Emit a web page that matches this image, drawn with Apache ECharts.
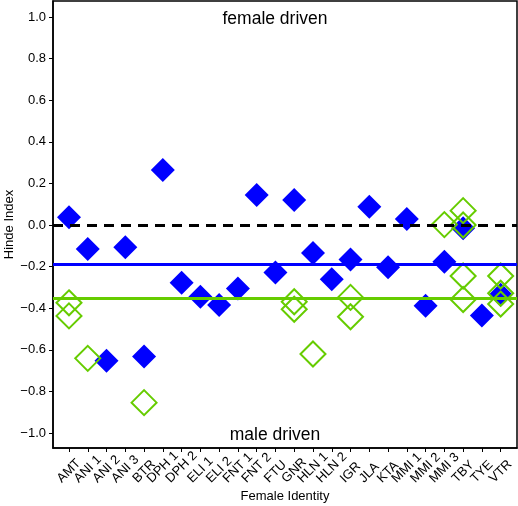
<!DOCTYPE html>
<html>
<head>
<meta charset="utf-8">
<script src="https://cdn.jsdelivr.net/npm/echarts@6/dist/echarts.min.js"></script>
<style>html,body{margin:0;padding:0;background:#fff}#c{width:518px;height:506px}</style>
</head>
<body>
<div id="c"></div>
<script>
const categories = ['AMT','ANI 1','ANI 2','ANI 3','BTR','DPH 1','DPH 2','ELI 1','ELI 2','FNT 1','FNT 2','FTU','GNR','HLN 1','HLN 2','IGR','JLA','KTA','MMI 1','MMI 2','MMI 3','TBY','TYE','VTR'];
// one filled (blue) value per female
const blueValues = [0.037,-0.115,-0.652,-0.107,-0.632,0.264,-0.277,-0.345,-0.385,-0.305,0.144,-0.228,0.12,-0.135,-0.261,-0.166,0.088,-0.203,0.029,-0.388,-0.176,-0.016,-0.435,-0.335];
// open (green) values: [category, value]
const greenCats = ['AMT','AMT','ANI 1','BTR','GNR','GNR','HLN 1','IGR','IGR','MMI 3','TBY','TBY','TBY','TBY','VTR','VTR','VTR'];
const greenValues = [-0.374,-0.437,-0.641,-0.854,-0.369,-0.405,-0.62,-0.348,-0.441,0.002,0.069,0.0,-0.245,-0.358,-0.245,-0.328,-0.38];
const blueMean = -0.19;
const greenMean = -0.355;
const zeroLine = 0;
const yTicks = [-1.0,-0.8,-0.6,-0.4,-0.2,0.0,0.2,0.4,0.6,0.8,1.0];
const annotations = ['female driven','male driven'];

const xMin = -0.852, xMax = 23.87;
const xIdx = categories.map((c,i)=>i);
const xLabelVals = [xMin].concat(xIdx, [xMax]); // empty edge labels keep every name visible
const blueData = blueValues.map((v,i)=>[i,v]);
const greenData = greenValues.map((v,i)=>[categories.indexOf(greenCats[i]),v]);

const font = 'Liberation Sans, Arial, sans-serif';
const xFont = 13;
const labelMargin = 2;
const labelBottomDepth = 36; // px below the axis line where rotated labels end
// each rotated label: bbox centred under its tick, bottoms aligned
const ctx = document.createElement('canvas').getContext('2d');
ctx.font = xFont + 'px ' + font;
const rich = {};
categories.forEach((c,i)=>{
  const L = ctx.measureText(c).width;
  const W = (L + 0.72*xFont) / Math.SQRT2;
  const s = Math.max(0, labelBottomDepth - labelMargin - W/2);
  const p = Math.SQRT2 * s;
  rich['c'+i] = {fontFamily:font,fontSize:xFont,color:'#000',padding:[p,p,0,0]};
});

const chart = echarts.init(document.getElementById('c'), null, {renderer:'canvas'});
chart.setOption({
  animation:false,
  grid:{left:53,right:1,top:1,bottom:58,show:true,borderColor:'#000',borderWidth:1.5,backgroundColor:'#fff',
        containLabel:false,outerBoundsMode:'none'},
  xAxis:{
    type:'value', min:xMin, max:xMax,
    name:'Female Identity', nameLocation:'middle', nameGap:42, nameMoveOverlap:false,
    nameTextStyle:{fontFamily:font,fontSize:13,color:'#000'},
    axisLine:{show:true,onZero:false,lineStyle:{color:'#000',width:1.5}},
    axisTick:{show:true,customValues:xIdx,length:4,lineStyle:{color:'#000'}},
    axisLabel:{customValues:xLabelVals,rotate:45,margin:labelMargin,align:'center',verticalAlign:'middle',
      fontFamily:font,fontSize:xFont,color:'#000',rich:rich,hideOverlap:false,
      formatter:(v)=>{const i=Math.round(v);
        if(Math.abs(v-i)>1e-6||i<0||i>=categories.length) return '';
        return '{c'+i+'|'+categories[i]+'}';}},
    splitLine:{show:false}
  },
  yAxis:{
    type:'value', min:-1.072, max:1.077,
    name:'Hinde Index', nameLocation:'middle', nameGap:37, nameRotate:90, nameMoveOverlap:false,
    nameTextStyle:{fontFamily:font,fontSize:13,color:'#000'},
    axisLine:{show:true,onZero:false,lineStyle:{color:'#000',width:1.5}},
    axisTick:{show:true,customValues:yTicks,length:4,lineStyle:{color:'#000'}},
    axisLabel:{customValues:yTicks,margin:7,fontFamily:font,fontSize:13,color:'#000',
      showMinLabel:true,showMaxLabel:true,
      formatter:(v)=>(v< -1e-9?'\u2212':'')+Math.abs(v).toFixed(1)},
    splitLine:{show:false}
  },
  series:[
    {type:'scatter',data:blueData,symbol:'diamond',symbolSize:24,
     itemStyle:{color:'#0000ff',opacity:1},z:2},
    {type:'scatter',data:greenData,symbol:'diamond',symbolSize:25,
     itemStyle:{color:'rgba(255,255,255,0)',borderColor:'#66cc00',borderWidth:2,opacity:1},z:3},
    {type:'scatter',data:[],z:5,
     markLine:{silent:true,symbol:['none','none'],label:{show:false},
       data:[
         {yAxis:blueMean,lineStyle:{color:'#0000ff',width:3,type:'solid'}},
         {yAxis:greenMean,lineStyle:{color:'#66cc00',width:3,type:'solid'}},
         {yAxis:zeroLine,lineStyle:{color:'#000',width:3,type:[10,7]}}
       ]}}
  ],
  graphic:[
    {type:'text',x:275,y:19,style:{text:annotations[0],fontFamily:font,fontSize:17.5,fill:'#000',align:'center',verticalAlign:'middle'}},
    {type:'text',x:275,y:435,style:{text:annotations[1],fontFamily:font,fontSize:17.5,fill:'#000',align:'center',verticalAlign:'middle'}}
  ]
});
</script>
</body>
</html>
